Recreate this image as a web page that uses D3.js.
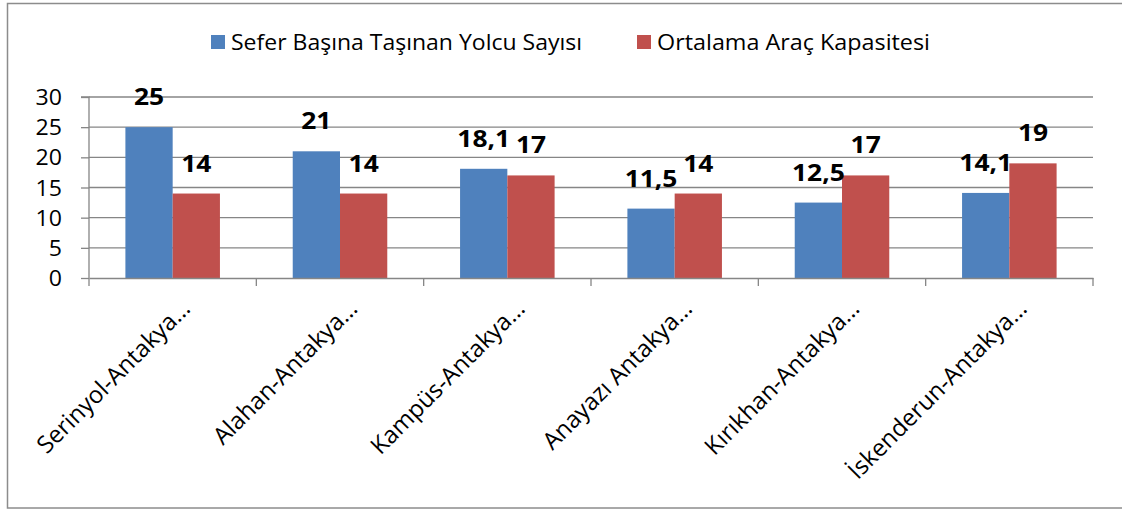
<!DOCTYPE html>
<html><head><meta charset="utf-8">
<script src="https://cdnjs.cloudflare.com/ajax/libs/d3/7.8.5/d3.min.js"></script>
<style>html,body{margin:0;padding:0;background:#fff;}svg{display:block;}</style>
</head><body>
<svg id="c" width="1122" height="509"></svg>
<script>
const categories = ["Serinyol-Antakya…","Alahan-Antakya…","Kampüs-Antakya…","Anayazı Antakya…","Kırıkhan-Antakya…","İskenderun-Antakya…"];
const seriesNames = ["Sefer Başına Taşınan Yolcu Sayısı","Ortalama Araç Kapasitesi"];
const yolcu = [25,21,18.1,11.5,12.5,14.1];
const kapasite = [14,14,17,14,17,19];
const yTicks = [0,5,10,15,20,25,30];
const colors = ["#4F81BD","#C0504D"];

const svg = d3.select("#c");
const font = "'Open Sans', sans-serif";
const SX = 1.1;
const m = {left:89, right:1093, top:97, bottom:278};

// outer frame
svg.append("rect").attr("x",7.5).attr("y",3.5).attr("width",1130).attr("height",504.5)
  .attr("fill","none").attr("stroke","#8c8c8c").attr("stroke-width",1.5);

const x0 = d3.scaleBand().domain(categories).range([m.left,m.right]).paddingInner(0).paddingOuter(0);
const x1 = d3.scaleBand().domain([0,1]).range([0,x0.bandwidth()]).paddingInner(0).paddingOuter(0.77);
const y = d3.scaleLinear().domain([0,30]).range([m.bottom,m.top]);

// gridlines
svg.append("g").selectAll("line").data(yTicks.filter(d=>d>0)).join("line")
  .attr("x1",m.left).attr("x2",m.right).attr("y1",d=>y(d)).attr("y2",d=>y(d))
  .attr("stroke","#868686").attr("stroke-width",1.3);

// bars
const data = categories.map((c,i)=>({c, v:[yolcu[i],kapasite[i]]}));
const g = svg.append("g");
data.forEach(d=>{
  d.v.forEach((v,k)=>{
    g.append("rect").attr("x",x0(d.c)+x1(k)).attr("y",y(v))
      .attr("width",x1.bandwidth()).attr("height",y(0)-y(v)).attr("fill",colors[k]);
  });
});

// y axis
const ya = svg.append("g").attr("transform",`translate(${m.left},0)`)
  .call(d3.axisLeft(y).tickValues(yTicks).tickSize(8).tickPadding(0).tickFormat(d3.format("d")));
ya.select(".domain").attr("stroke","#868686").attr("stroke-width",1.3).attr("d",`M-8,${m.top}H0V${m.bottom}`);
ya.selectAll(".tick line").attr("stroke","#868686").attr("stroke-width",1.3);
ya.selectAll(".tick text").attr("x",null).attr("dy",null)
  .attr("transform","translate(-27,7.5) scale(1.1,1)")
  .attr("font-family",font).attr("font-size",21).attr("fill","#000");

// x axis
const xa = svg.append("g").attr("transform",`translate(0,${m.bottom})`)
  .call(d3.axisBottom(x0).tickSize(0).tickFormat(""));
xa.select(".domain").attr("stroke","#868686").attr("stroke-width",1.3);
const bounds = categories.map(c=>x0(c)).concat([m.right]);
svg.append("g").selectAll("line").data(bounds).join("line")
  .attr("x1",d=>d).attr("x2",d=>d).attr("y1",m.bottom).attr("y2",m.bottom+8)
  .attr("stroke","#868686").attr("stroke-width",1.3);

// x labels rotated
const xl = svg.append("g").selectAll("text").data(categories).join("text")
  .attr("transform",d=>`translate(${x0(d)+x0.bandwidth()/2+19},${m.bottom+32}) rotate(-45)`)
  .attr("text-anchor","end").attr("font-family",font).attr("font-size",20).attr("fill","#000")
  .text(d=>d);
const L0 = xl.node().getComputedTextLength();
xl.attr("font-size", 20*205/L0);

// data labels
const fmt = v => (Number.isInteger(v)? String(v) : String(v).replace(".",","));
data.forEach(d=>{
  d.v.forEach((v,k)=>{
    g.append("text")
      .attr("transform",`translate(${x0(d.c)+x1(k)+x1.bandwidth()/2},${y(v)-22}) scale(${SX},1)`)
      .attr("text-anchor","middle").attr("font-family",font).attr("font-weight","bold")
      .attr("font-size",24).attr("fill","#000").text(fmt(v));
  });
});

// legend
const legX = [211,637], legW=[351,273];
seriesNames.forEach((s,k)=>{
  svg.append("rect").attr("x",legX[k]).attr("y",35).attr("width",14).attr("height",14).attr("fill",colors[k]);
  svg.append("text").attr("x",legX[k]+20).attr("y",50).attr("font-family",font).attr("font-size",21)
    .attr("textLength",legW[k]).attr("lengthAdjust","spacingAndGlyphs").attr("fill","#000").text(s);
});
</script>
</body></html>
